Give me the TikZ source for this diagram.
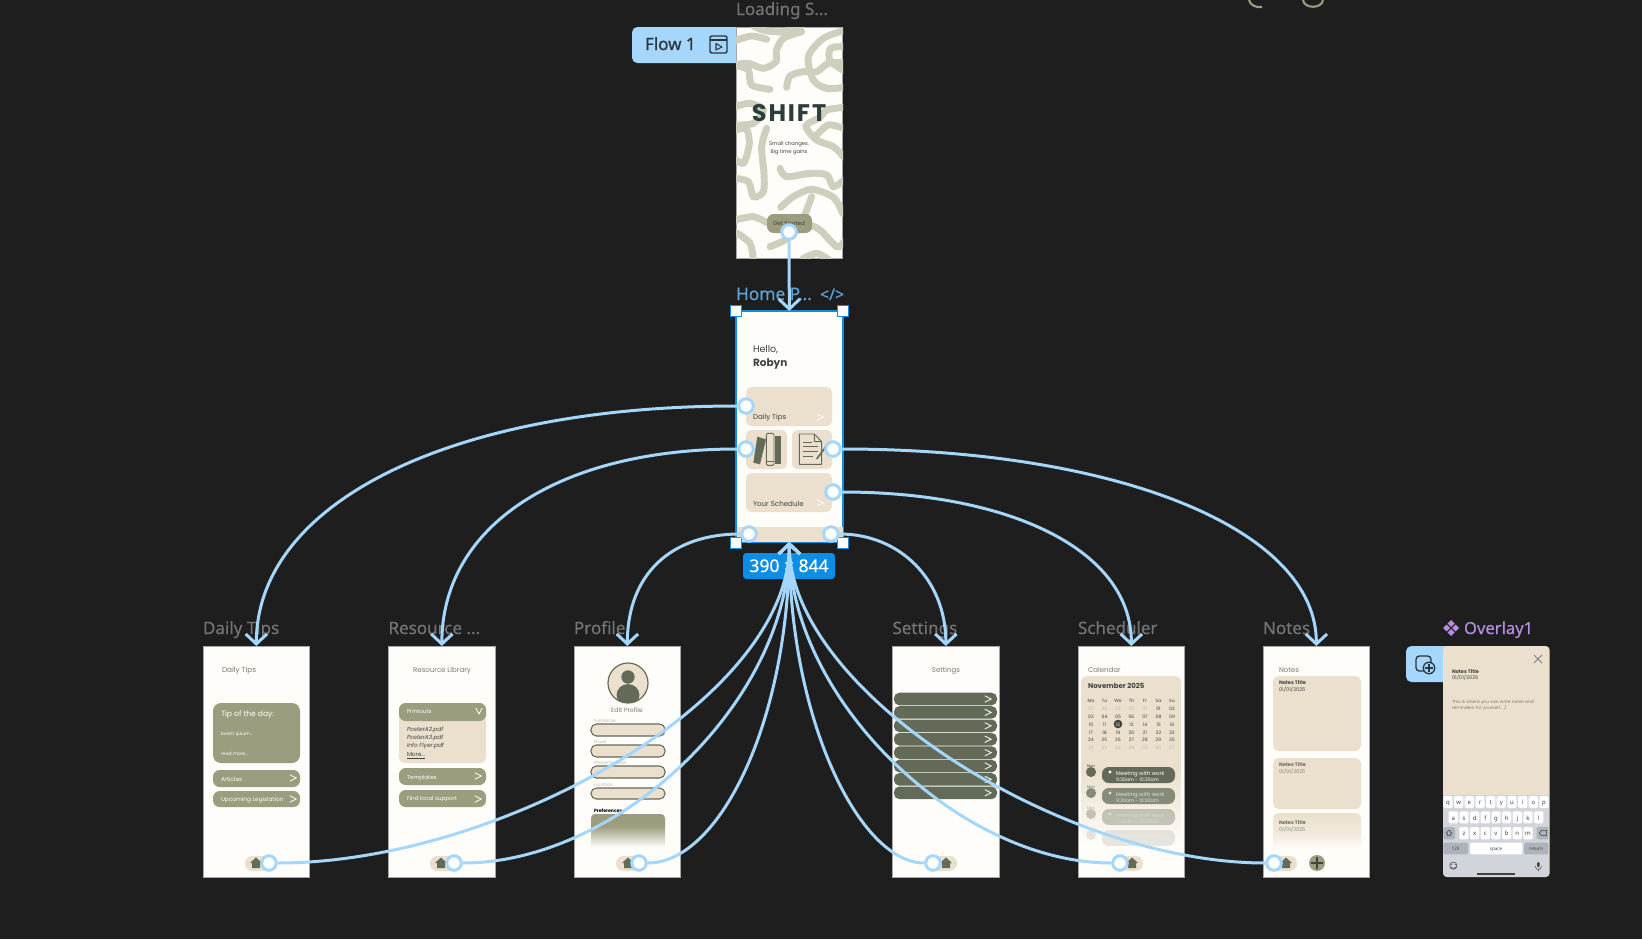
\documentclass[tikz,border=0pt]{standalone}
\usepackage{fontspec}
\usetikzlibrary{arrows.meta,calc}
\setmainfont{Noto Sans}
\newfontfamily\labf[FakeBold=0.25]{Noto Sans}
\newfontfamily\flowf[FakeBold=0.9]{Noto Sans}
\newfontfamily\pop{Poppins}
\newfontfamily\popw[LetterSpace=8]{Poppins}
\definecolor{bgc}{HTML}{1E1E1E}
\definecolor{paperc}{HTML}{FFFDF9}
\definecolor{tanc}{HTML}{EAE0CD}
\definecolor{olivec}{HTML}{9C9C7E}
\definecolor{dgreen}{HTML}{636B58}
\definecolor{inkc}{HTML}{3F443F}
\definecolor{shiftc}{HTML}{2C3E3C}
\definecolor{connc}{HTML}{A5D6FB}
\definecolor{selb}{HTML}{0D8DE3}
\definecolor{labg}{HTML}{757575}
\definecolor{homelab}{HTML}{62A3D9}
\definecolor{purp}{HTML}{B48CE0}
\definecolor{sqg}{HTML}{CFCFBE}
\definecolor{greyt}{HTML}{7A7A72}
\definecolor{calg}{HTML}{BDB9AC}
\definecolor{kbd}{HTML}{D1D4DA}
\definecolor{kbk}{HTML}{ADB3BC}
\definecolor{tagdark}{HTML}{2C3640}
\newcommand\pxs[1]{\fontsize{\fpeval{0.75*#1}pt}{\fpeval{0.9*#1}pt}\selectfont}
\newcounter{tn}
\newcommand\tx[4]{\stepcounter{tn}\node[anchor=base west,inner sep=0pt,outer sep=0pt,#1] (t\arabic{tn}) at (#2,#3) {#4};}
\newcommand\homeic[2]{\begin{scope}[shift={(#1,#2)}]\fill[dgreen] (-6,0)--(0,-5.5)--(6,0)--(4,0)--(4,5)--(-4,5)--(-4,0)--cycle;\end{scope}}
\newcommand\chev[4]{\begin{scope}[shift={(#1,#2)}]\draw[#4,line width=0.6pt] ({-#3},{-#3})--(#3,0)--({-#3},#3);\end{scope}}
\newcommand\calrow[4]{\foreach \v [count=\i from #1] in {#4} {\pgfmathsetmacro\xx{1091+13.5*\i}\tx{anchor=base,text=#3,font={\pop\pxs{4.6}}}{\xx}{#2}{\v}}}
\tikzset{
  screen/.style={fill=paperc,draw=gray!70,line width=0.4pt,inner sep=0pt,outer sep=0pt,minimum width=80pt,minimum height=173.25pt,anchor=north west},
  handle/.style={circle,fill=white,draw=connc,line width=2.25pt,inner sep=0pt,minimum size=10.9pt},
  conn/.style={draw=connc,line width=2.25pt},
  arr/.style={conn,-{Straight Barb[length=7.5pt,width=16pt]}},
  corner/.style={rectangle,fill=white,draw=selb,line width=1pt,inner sep=0pt,minimum size=8pt},
  lab/.style={text=labg,font={\labf\pxs{17}}},
  card/.style={fill=tanc,rounded corners=4pt},
  pill/.style={fill=olivec,rounded corners=5pt},
  navp/.style={fill=tanc,rounded corners=5.5pt},
  sq/.style={draw=sqg,line width=5.2pt,line cap=round},
  wt/.style={text=white,font={\pop\pxs{#1}}},
  gt/.style={text=greyt,font={\pop\pxs{#1}}},
  it/.style={text=inkc,font={\pop\pxs{#1}}},
}
\begin{document}
\begin{tikzpicture}[x=0.75pt,y=-0.75pt]
\useasboundingbox (0,0) rectangle (1642,939);
\clip (0,0) rectangle (1642,939);
\fill[bgc] (0,0) rectangle (1642,939);

% corner arcs
\draw[color=olivec,line width=1.6pt] (1249,0) .. controls (1250,5) and (1256,8) .. (1262,7);
\draw[color=olivec,line width=1.6pt] (1303,0) .. controls (1304,9) and (1322,9) .. (1323,0);

% labels
\tx{lab}{736}{15}{Loading S...}
\tx{lab}{203}{634}{Daily Tips}
\tx{lab}{388.5}{634}{Resource ...}
\tx{lab}{574}{634}{Profile}
\tx{lab}{892.5}{634}{Settings}
\tx{lab}{1078}{634}{Scheduler}
\tx{lab}{1263}{634}{Notes}
\tx{text=homelab,font={\labf\pxs{17.3}}}{736}{300}{Home P...}
\tx{text=homelab,font={\labf\pxs{16}}}{820}{300}{</>}
\tx{text=purp,font={\labf\pxs{16.6}}}{1464}{634}{Overlay1}
\begin{scope}[shift={(1451,628)}]
\fill[purp] (0,-8)--(3.5,-4.5)--(0,-1)--(-3.5,-4.5)--cycle (0,8)--(3.5,4.5)--(0,1)--(-3.5,4.5)--cycle (-8,0)--(-4.5,-3.5)--(-1,0)--(-4.5,3.5)--cycle (8,0)--(4.5,-3.5)--(1,0)--(4.5,3.5)--cycle;
\end{scope}

% flow tag
\fill[connc,rounded corners=4pt] (632,27) rectangle (750,63);
\tx{text=tagdark,font={\flowf\pxs{17}}}{645}{50}{Flow 1}
\draw[tagdark,line width=1.1pt,rounded corners=1.5pt] (710,36) rectangle (727,53);
\draw[tagdark,line width=1pt] (710,40)--(727,40);
\draw[tagdark,line width=0.8pt,line join=round] (716,43.5)--(722,47)--(716,50)--cycle;

% overlay tag
\fill[connc,rounded corners=4pt] (1406,646) rectangle (1455,682);
\draw[tagdark,line width=1pt,rounded corners=2.5pt] (1416,656) rectangle (1431,671);
\filldraw[fill=connc,draw=tagdark,line width=1pt] (1429,668) circle[radius=4.3pt];
\draw[tagdark,line width=0.8pt] (1425,668)--(1433,668) (1429,664)--(1429,672);

% LOADING SCREEN
\node[screen] (loading) at (736,27) {};
\begin{scope}
\clip (736,27) rectangle (843,258);
\begin{scope}[xshift=465pt,x=0.25pt,y=-0.25pt]
\draw[sq] plot[smooth] coordinates {(400,78)(435,92)(490,95)(545,78)};
\draw[sq] plot[smooth] coordinates {(345,122)(395,108)(440,118)};
\draw[sq] plot[smooth] coordinates {(545,95)(490,115)(470,150)(468,185)(430,205)(385,190)(348,195)(385,210)(395,255)(450,268)};
\draw[sq] plot[smooth] coordinates {(672,92)(610,115)(565,170)(580,240)(620,265)(672,262)};
\draw[sq] plot[smooth] coordinates {(672,140)(632,145)(630,182)(672,212)};
\draw[sq] plot[smooth] coordinates {(500,262)(510,228)(550,215)(590,215)(625,190)(672,188)};
\draw[sq] plot[smooth] coordinates {(345,392)(378,385)(388,430)(372,488)(348,480)};
\draw[sq] plot[smooth] coordinates {(440,385)(425,440)(432,520)(430,575)(400,590)(385,545)(345,535)};
\draw[sq] plot[smooth] coordinates {(672,322)(620,330)(600,352)(558,378)(590,420)(640,440)(672,472)};
\draw[sq] plot[smooth] coordinates {(672,385)(625,375)(590,405)};
\draw[sq] plot[smooth] coordinates {(480,505)(500,530)(570,520)(620,525)(640,560)(672,540)};
\draw[sq] plot[smooth] coordinates {(482,622)(520,590)(575,568)(640,592)(668,640)};
\draw[sq] plot[smooth] coordinates {(575,590)(552,650)(530,690)(495,720)(450,740)};
\draw[sq] plot[smooth] coordinates {(345,660)(400,650)(440,668)};
\draw[sq] plot[smooth] coordinates {(562,672)(600,690)(650,740)(672,725)};
\draw[sq] plot[smooth] coordinates {(352,700)(390,730)(400,778)};
\draw[sq] plot[smooth] coordinates {(550,775)(590,760)(625,778)};
\draw[sq] plot[smooth] coordinates {(345,320)(390,310)(430,330)(400,370)(345,375)};
\end{scope}
\end{scope}
\node[anchor=base,inner sep=0pt,text=shiftc,font={\popw\bfseries\pxs{24}}] (shifttitle) at (789,121) {SHIFT};
\tx{anchor=base,it=5.2}{789}{145}{Small changes.}
\tx{anchor=base,it=5.2}{789}{153}{Big time gains}
\fill[olivec,rounded corners=5pt] (767,214) rectangle (812,233);
\tx{anchor=base,it=5.6}{789}{225}{Get Started}

% HOME SCREEN
\node[screen,fill=paperc,draw=selb,line width=1.5pt] (home) at (736,311) {};
\fill[tanc] (737,527) rectangle (843,542);
\tx{it=9.5}{753}{352}{Hello,}
\tx{it=10.5,font={\pop\bfseries\pxs{10.5}}}{753}{366}{Robyn}
\fill[card] (746,387) rectangle (832,426);
\fill[card] (746,430) rectangle (787,469);
\fill[card] (792,430) rectangle (832,469);
\fill[card] (746,473) rectangle (832,512);
\tx{it=7.1}{753}{419}{Daily Tips}
\tx{it=7.1}{753}{506}{Your Schedule}
\chev{820}{417}{3.2}{white}
\chev{820}{503}{3.2}{white}
\begin{scope}[xshift=525pt,yshift=-210pt,x=0.25pt,y=-0.25pt]
\fill[dgreen] (172,470)--(198,478)--(180,553)--(160,548)--cycle;
\draw[dgreen,line width=0.7pt,rounded corners=1pt] (199,460) rectangle (222,556);
\draw[dgreen,line width=0.6pt] (199,543)--(222,543);
\fill[dgreen] (224,467) rectangle (243,553);
\draw[dgreen,line width=0.7pt,line join=round] (298,462)--(343,462)--(365,485)--(365,553)--(298,553)--cycle (343,462)--(343,485)--(365,485);
\draw[dgreen,line width=0.7pt] (310,486)--(335,486) (310,500)--(355,500) (310,515)--(355,515) (310,530)--(340,530);
\draw[dgreen,line width=1.2pt] (385,490)--(350,537);
\end{scope}
\node[corner] (c1) at (736,311) {};
\node[corner] (c2) at (843,311) {};
\node[corner] (c3) at (736,543) {};
\node[corner] (c4) at (843,543) {};
% badge
\fill[selb,rounded corners=2.5pt] (743,553) rectangle (835,579);
\tx{anchor=base,text=white,font={\labf\pxs{17.5}}}{789}{572}{390 × 844}

% DAILY TIPS
\node[screen] (daily) at (203,646) {};
\tx{gt=7.3}{222}{672}{Daily Tips}
\fill[olivec,rounded corners=6pt] (213,703) rectangle (300,763);
\tx{wt=7.6}{221}{716}{Tip of the day:}
\tx{wt=4.6}{221}{735}{lorem ipsum...}
\tx{wt=4.6}{221}{755}{read more...}
\fill[pill] (213,770) rectangle (300,787);
\tx{wt=5.8}{221}{781}{Articles}
\chev{293}{778}{3.2}{white}
\fill[pill] (213,791) rectangle (300,807);
\tx{wt=5.8}{221}{801}{Upcoming Legislation}
\chev{293}{799}{3.2}{white}
\fill[navp] (245,856) rectangle (272,871);
\homeic{256}{863}

% RESOURCE
\node[screen] (resource) at (388.5,646) {};
\tx{anchor=base,gt=7}{442}{672}{Resource Library}
\fill[card] (399,703) rectangle (486,763);
\fill[pill] (399,703) rectangle (486,721);
\tx{wt=5.6}{407}{713}{Printouts}
\begin{scope}[shift={(479,711)}]\draw[white,line width=0.6pt] (-3.2,-3)--(0,3)--(3.2,-3);\end{scope}
\tx{it=5.8}{407}{731}{\itshape PosterA2.pdf}
\tx{it=5.8}{407}{739}{\itshape PosterA3.pdf}
\tx{it=5.8}{407}{747}{\itshape Info Flyer.pdf}
\tx{it=5.8}{407}{756}{\underline{More...}}
\fill[pill] (399,768) rectangle (486,785);
\tx{wt=5.6}{407}{779}{Templates}
\chev{478}{776}{3.2}{white}
\fill[pill] (399,790) rectangle (486,807);
\tx{wt=5.6}{407}{800}{Find local support}
\chev{478}{799}{3.2}{white}
\fill[navp] (430,856) rectangle (457,871);
\homeic{441}{863}

% PROFILE
\node[screen] (profile) at (574,646) {};
\begin{scope}
\path[clip] (628,683) circle[radius=15pt];
\fill[tanc] (608,663) rectangle (648,703);
\fill[dgreen] (628,677) circle[radius=5pt];
\fill[dgreen] (628,695) ellipse[x radius=8.6pt,y radius=8.2pt];
\end{scope}
\draw[dgreen,line width=0.9pt] (628,683) circle[radius=15pt];
\tx{anchor=base,gt=6.2}{627}{712}{Edit Profile}
\foreach \ya/\yb/\yl/\tt in {724/736/722/Full Name,745/757/743/Email,766/778/764/Phone Number,788/799/786/Location}{
  \draw[fill=tanc,draw=dgreen,line width=0.8pt,rounded corners=4pt] (591,\ya) rectangle (665,\yb);
  \tx{text=calg,font={\pop\pxs{4.4}}}{594}{\yl}{\tt}
}
\tx{text=black,font={\pop\bfseries\pxs{4.6}}}{594}{812}{Preferences}
\fill[olivec,rounded corners=3pt] (591,814) rectangle (665,830);
\shade[top color=olivec,bottom color=paperc] (591,826) rectangle (665,847);
\fill[navp] (616,856) rectangle (643,871);
\homeic{628}{863}

% SETTINGS
\node[screen] (settings) at (892.5,646) {};
\tx{anchor=base,gt=7}{946}{672}{Settings}
\foreach \k in {0,...,7}{
  \pgfmathsetmacro\yo{692.7+13.4*\k}
  \pgfmathsetmacro\yt{\yo+12.6}
  \fill[dgreen,rounded corners=4pt] (894,\yo) rectangle (997,\yt);
  \pgfmathsetmacro\ym{\yo+6.3}
  \chev{988}{\ym}{3.2}{white}
}
\fill[navp] (927,856) rectangle (957,871);
\homeic{946}{863}

% SCHEDULER
\node[screen] (scheduler) at (1078,646) {};
\tx{gt=7}{1088}{672}{Calendar}
\fill[tanc,rounded corners=4pt] (1081,676) rectangle (1181,775);
\shade[top color=tanc,bottom color=paperc] (1081,770) rectangle (1181,845);
\tx{it=7.2,font={\pop\bfseries\pxs{7}}}{1088}{688}{November 2025}
\calrow{0}{702}{inkc}{Mo,Tu,We,Th,Fr,Sa,Su}
\calrow{0}{710}{calg}{27,28,29,30,31}
\calrow{5}{710}{inkc}{01,02}
\calrow{0}{718}{inkc}{03,04,05,06,07,08,09}
\calrow{0}{726}{inkc}{10,11}
\node[circle,fill=inkc,inner sep=0pt,minimum size=6.5pt] (today) at (1118,724) {};
\tx{anchor=base,text=white,font={\pop\pxs{4.6}}}{1118}{726}{12}
\calrow{3}{726}{inkc}{13,14,15,16}
\calrow{0}{734}{inkc}{17,18,19,20,21,22,23}
\calrow{0}{741}{inkc}{24,25,26,27,28,29,30}
\calrow{0}{749}{calg}{01,02,03,04,05,06,07}
\foreach \yy/\oo in {767/1,788/0.75,809/0.35,830/0.15}{
  \begin{scope}[opacity=\oo]
  \pgfmathsetmacro\yb{\yy+16}
  \pgfmathsetmacro\yc{\yy+5}
  \pgfmathsetmacro\yd{\yy+8}
  \pgfmathsetmacro\ye{\yy+14}
  \pgfmathsetmacro\yf{\yy+1}
  \fill[dgreen,rounded corners=5pt] (1102,\yy) rectangle (1175,\yb);
  \fill[dgreen] (1091,\yc) circle[radius=3.8pt];
  \fill[white] (1110,\yc) circle[radius=1.2pt];
  \tx{text=inkc,opacity=\oo,font={\pop\pxs{3.8}}}{1087}{\yy}{Mon}
  \tx{text=white,opacity=\oo,font={\pop\pxs{5.4}}}{1116}{\yd}{Meeting with work}
  \tx{text=white,opacity=\oo,font={\pop\pxs{4.8}}}{1116}{\ye}{9:30am - 10:30am}
  \end{scope}
}
\fill[navp] (1122,856) rectangle (1143,871);
\homeic{1132}{863}

% NOTES
\node[screen] (notes) at (1263,646) {};
\tx{gt=7}{1279}{672}{Notes}
\fill[card] (1273,676) rectangle (1361,751);
\tx{it=5,font={\pop\bfseries\pxs{5}}}{1279}{684}{Notes Title}
\tx{it=5}{1279}{691}{01/01/2025}
\fill[card] (1273,758) rectangle (1361,809);
\tx{it=5,font={\pop\bfseries\pxs{5}},opacity=0.75}{1279}{766}{Notes Title}
\tx{it=5,opacity=0.6}{1279}{773}{01/01/2025}
\begin{scope}
\clip[rounded corners=4pt] (1273,813) rectangle (1361,870);
\shade[top color=tanc,bottom color=paperc,middle color=tanc!70!paperc] (1273,813) rectangle (1361,850);
\end{scope}
\tx{it=5,font={\pop\bfseries\pxs{5}},opacity=0.75}{1279}{824}{Notes Title}
\tx{it=5,opacity=0.6}{1279}{831}{01/01/2025}
\fill[navp] (1265,856) rectangle (1297,871);
\homeic{1286}{863}
\fill[olivec] (1317,863) circle[radius=6pt];
\draw[inkc,line width=0.8pt] (1311,863)--(1323,863) (1317,857)--(1317,869);

% OVERLAY
\node[screen,fill=tanc,draw=none,rounded corners=3pt] (overlay) at (1443,646) {};
\begin{scope}
\clip[rounded corners=3pt] (1443,646) rectangle (1549,877);
\fill[kbd] (1443,795) rectangle (1549,877);
\end{scope}
\draw[gray,line width=0.6pt] (1534,655)--(1542,663) (1542,655)--(1534,663);
\tx{it=5,font={\pop\bfseries\pxs{5}}}{1452}{673}{Notes Title}
\tx{it=5}{1452}{679.5}{01/01/2025}
\tx{gt=4.4}{1452}{703}{This is where you can write notes and}
\tx{gt=4.4}{1452}{709}{reminders for yourself... /}
\begin{scope}[xshift=937.5pt,yshift=-457.5pt,x=0.25pt,y=-0.25pt]
\foreach \k [count=\i from 0] in {q,w,e,r,t,y,u,i,o,p}{
  \pgfmathsetmacro\xa{594+32*\i-14}\pgfmathsetmacro\xb{\xa+28}
  \fill[white,rounded corners=1pt] (\xa,558) rectangle (\xb,594);
  \pgfmathsetmacro\xc{\xa+14}\tx{anchor=base,text=inkc,font=\pxs{6}}{\xc}{584}{\k}
}
\foreach \k [count=\i from 0] in {a,s,d,f,g,h,j,k,l}{
  \pgfmathsetmacro\xa{610+32*\i-14}\pgfmathsetmacro\xb{\xa+28}
  \fill[white,rounded corners=1pt] (\xa,604) rectangle (\xb,640);
  \pgfmathsetmacro\xc{\xa+14}\tx{anchor=base,text=inkc,font=\pxs{6}}{\xc}{630}{\k}
}
\foreach \k [count=\i from 0] in {z,x,c,v,b,n,m}{
  \pgfmathsetmacro\xa{642+32*\i-14}\pgfmathsetmacro\xb{\xa+28}
  \fill[white,rounded corners=1pt] (\xa,651) rectangle (\xb,688);
  \pgfmathsetmacro\xc{\xa+14}\tx{anchor=base,text=inkc,font=\pxs{6}}{\xc}{677}{\k}
}
\fill[kbk,rounded corners=1pt] (580,651) rectangle (615,688);
\fill[kbk,rounded corners=1pt] (860,651) rectangle (895,688);
\draw[inkc,line width=0.4pt,line join=round] (597,660)--(606,670)--(602,670)--(602,677)--(592,677)--(592,670)--(588,670)--cycle;
\draw[inkc,line width=0.4pt,line join=round] (868,669)--(875,661)--(890,661)--(890,677)--(875,677)--cycle;
\fill[kbk,rounded corners=1pt] (580,698) rectangle (654,733);
\fill[white,rounded corners=1pt] (660,698) rectangle (817,733);
\fill[kbk,rounded corners=1pt] (822,698) rectangle (895,733);
\tx{anchor=base,text=inkc,font=\pxs{4.6}}{617}{721}{123}
\tx{anchor=base,text=inkc,font=\pxs{4.6}}{738}{721}{space}
\tx{anchor=base,text=inkc,font=\pxs{4.6}}{858}{721}{return}
\draw[inkc,line width=0.4pt] (610,767) circle[radius=2.7pt];
\fill[inkc] (604,764) circle[radius=0.4pt] (616,764) circle[radius=0.4pt];
\draw[inkc,line width=0.4pt] (603,772) .. controls (607,776) and (613,776) .. (617,772);
\fill[inkc,rounded corners=1pt] (861,756) rectangle (869,772);
\draw[inkc,line width=0.4pt] (856,768) .. controls (856,782) and (874,782) .. (874,768) (865,778)--(865,784);
\draw[inkc,line width=0.9pt] (680,792)--(795,792);
\end{scope}

% handles
\node[handle] (hstart) at (789,232) {};
\node[handle] (hl1) at (746,406) {};
\node[handle] (hl2) at (746,449) {};
\node[handle] (hr1) at (833,449) {};
\node[handle] (hr2) at (833,492) {};
\node[handle] (hl3) at (749,534) {};
\node[handle] (hr3) at (831,534) {};
\node[handle] (hb1) at (269,863) {};
\node[handle] (hb2) at (454,863) {};
\node[handle] (hb3) at (639,863) {};
\node[handle] (hb4) at (933,863) {};
\node[handle] (hb5) at (1120,863) {};
\node[handle] (hb6) at (1274,863) {};

% connectors
\draw[arr] (hstart) -- (home.north);
\draw[arr] (hl1) .. controls (452,406) and (256.5,502) .. (daily.north);
\draw[arr] (hl2) .. controls (560,449) and (442,525) .. (resource.north);
\draw[arr] (hl3) .. controls (670,534) and (627.5,575) .. (profile.north);
\draw[arr] (hr1) .. controls (1120,449) and (1316.5,530) .. (notes.north);
\draw[arr] (hr2) .. controls (1010,492) and (1131.5,550) .. (scheduler.north);
\draw[arr] (hr3) .. controls (900,534) and (946,580) .. (settings.north);
\draw[arr] (hb1) .. controls (500,863) and (789,700) .. (home.south);
\draw[arr] (hb2) .. controls (620,863) and (789,700) .. (home.south);
\draw[arr] (hb3) .. controls (720,863) and (789,720) .. (home.south);
\draw[arr] (hb4) .. controls (860,863) and (789,720) .. (home.south);
\draw[arr] (hb5) .. controls (960,863) and (789,700) .. (home.south);
\draw[arr] (hb6) .. controls (1060,863) and (789,690) .. (home.south);
\end{tikzpicture}
\end{document}
